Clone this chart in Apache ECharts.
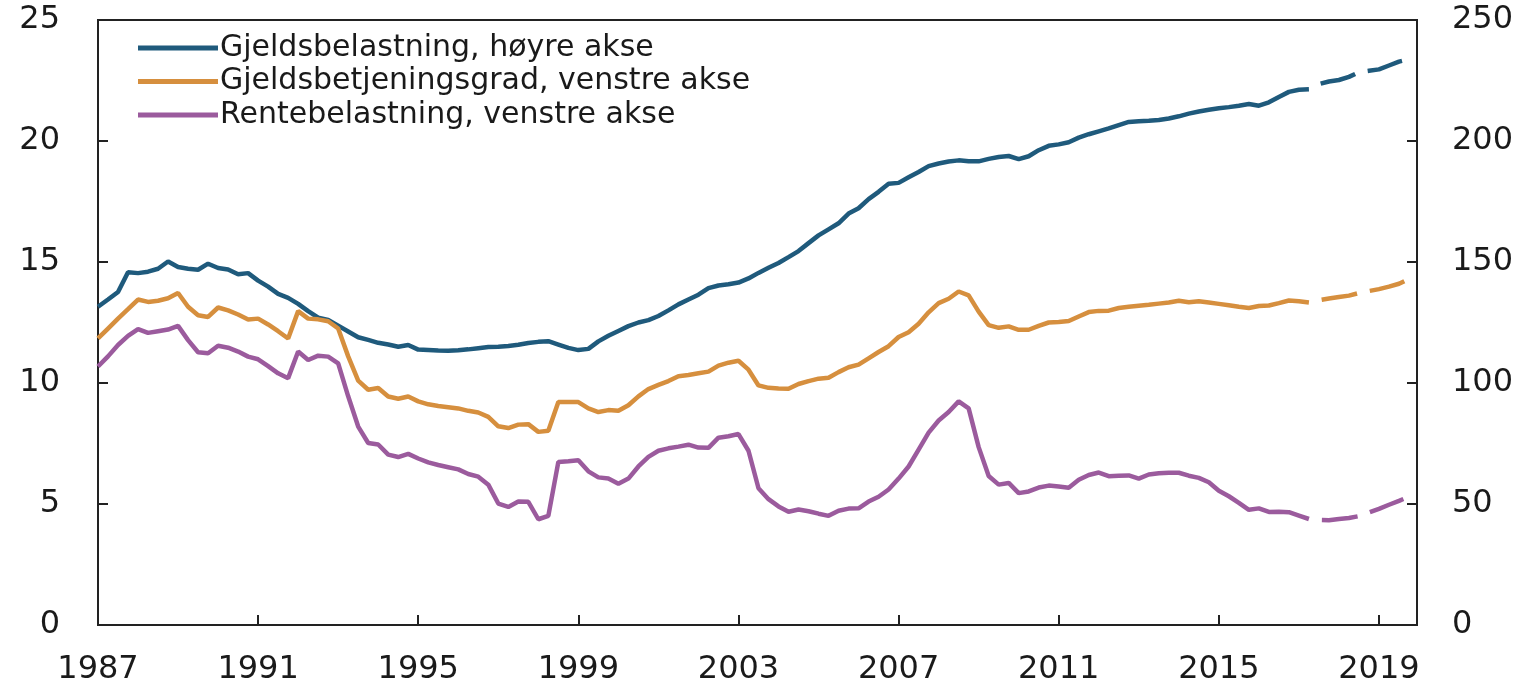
<!DOCTYPE html>
<html>
<head>
<meta charset="utf-8">
<script src="https://cdn.jsdelivr.net/npm/echarts@6/dist/echarts.min.js"></script>
<style>
  html, body { margin: 0; padding: 0; background: #fff; }
  #chart { width: 1534px; height: 686px; }
</style>
</head>
<body>
<div id="chart"></div>
<script>
// quarterly data, 1987K1 -> 2019K4
const startYear = 1987;
const splitIndex = 121; // last observed quarter (2017K2), projection after

// Gjeldsbelastning, right axis
const gjeldsbelastning = [
  131.5, 134.5, 137.6, 145.8, 145.4, 146.0, 147.2, 150.2, 147.9, 147.2,
  146.8, 149.3, 147.5, 146.9, 144.9, 145.4, 142.3, 139.8, 136.8, 135.2,
  132.7, 129.7, 127.0, 126.1, 123.7, 121.3, 118.9, 117.8, 116.6, 115.9,
  115.0, 115.7, 113.8, 113.6, 113.4, 113.3, 113.5, 113.9, 114.4, 114.9,
  115.0, 115.3, 115.8, 116.5, 117.0, 117.3, 115.9, 114.5, 113.6, 114.1,
  117.2, 119.5, 121.5, 123.5, 125.0, 126.0, 127.7, 130.0, 132.5, 134.5,
  136.5, 139.2, 140.3, 140.8, 141.5, 143.2, 145.5, 147.6, 149.6, 152.0,
  154.5, 157.8, 161.0, 163.5, 166.0, 170.0, 172.2, 176.0, 179.0, 182.3,
  182.7, 185.0, 187.2, 189.6, 190.7, 191.5, 192.0, 191.6, 191.6, 192.6,
  193.4, 193.8, 192.5, 193.7, 196.2, 198.0, 198.6, 199.5, 201.4, 202.8,
  204.0, 205.2, 206.6, 207.9, 208.2, 208.4, 208.7, 209.3, 210.2, 211.3,
  212.2, 212.9, 213.5, 214.0, 214.6, 215.3, 214.6, 216.0, 218.2, 220.3,
  221.2, 221.4, 223.5, 224.6, 225.2, 226.5, 228.4, 229.0, 229.6, 231.2,
  232.8, 233.8
];

// Gjeldsbetjeningsgrad, left axis
const gjeldsbetjeningsgrad = [
  11.84, 12.25, 12.66, 13.05, 13.45, 13.35, 13.40, 13.50, 13.72, 13.15,
  12.80, 12.73, 13.12, 13.00, 12.83, 12.62, 12.66, 12.42, 12.14, 11.84,
  12.97, 12.66, 12.63, 12.55, 12.25, 11.10, 10.10, 9.72, 9.79, 9.44,
  9.35, 9.44, 9.24, 9.12, 9.05, 9.00, 8.95, 8.85, 8.78, 8.60,
  8.21, 8.14, 8.28, 8.30, 7.98, 8.03, 9.21, 9.21, 9.21, 8.95,
  8.80, 8.88, 8.85, 9.08, 9.45, 9.75, 9.92, 10.08, 10.28, 10.33,
  10.40, 10.47, 10.72, 10.84, 10.92, 10.55, 9.90, 9.80, 9.77, 9.76,
  9.96, 10.08, 10.18, 10.22, 10.45, 10.65, 10.76, 11.02, 11.28, 11.52,
  11.90, 12.10, 12.45, 12.92, 13.30, 13.48, 13.78, 13.62, 12.95, 12.39,
  12.28, 12.34, 12.20, 12.20, 12.36, 12.50, 12.52, 12.56, 12.75, 12.93,
  12.98, 12.99, 13.10, 13.15, 13.19, 13.23, 13.28, 13.33, 13.40, 13.34,
  13.38, 13.33, 13.27, 13.21, 13.15, 13.10, 13.18, 13.20, 13.30, 13.41,
  13.38, 13.33, 13.42, 13.49, 13.55, 13.61, 13.72, 13.80, 13.88, 13.98,
  14.10, 14.30
];

// Rentebelastning, left axis
const rentebelastning = [
  10.68, 11.10, 11.57, 11.95, 12.23, 12.07, 12.14, 12.21, 12.36, 11.77,
  11.27, 11.23, 11.54, 11.46, 11.30, 11.09, 10.98, 10.70, 10.40, 10.20,
  11.30, 10.95, 11.13, 11.09, 10.81, 9.45, 8.20, 7.52, 7.46, 7.04,
  6.94, 7.07, 6.88, 6.72, 6.61, 6.52, 6.43, 6.24, 6.13, 5.80,
  5.02, 4.88, 5.10, 5.09, 4.37, 4.51, 6.74, 6.77, 6.81, 6.35,
  6.10, 6.05, 5.84, 6.05, 6.55, 6.95, 7.20, 7.30, 7.37, 7.45,
  7.33, 7.32, 7.74, 7.80, 7.89, 7.20, 5.65, 5.20, 4.90, 4.68,
  4.77, 4.70, 4.60, 4.51, 4.72, 4.81, 4.82, 5.10, 5.30, 5.60,
  6.05, 6.55, 7.25, 7.95, 8.45, 8.80, 9.24, 8.95, 7.35, 6.16,
  5.80, 5.87, 5.45, 5.52, 5.68, 5.76, 5.72, 5.67, 6.00, 6.20,
  6.30, 6.15, 6.17, 6.18, 6.05, 6.22, 6.27, 6.29, 6.29, 6.17,
  6.08, 5.90, 5.55, 5.32, 5.05, 4.76, 4.82, 4.67, 4.68, 4.66,
  4.52, 4.38, 4.34, 4.33, 4.38, 4.42, 4.50, 4.65, 4.80, 4.97,
  5.13, 5.30
];

const names = [
  'Gjeldsbelastning, høyre akse',
  'Gjeldsbetjeningsgrad, venstre akse',
  'Rentebelastning, venstre akse'
];
const colors = ['#1f5a7c', '#d68f3e', '#9b5b9d'];

const toPairs = (arr) => arr.map((v, i) => [startYear + i / 4, v]);
const observed = (arr) => toPairs(arr).slice(0, splitIndex + 1);
const projected = (arr) => toPairs(arr).slice(splitIndex);

const font = '"DejaVu Sans", Verdana, sans-serif';
const tickStyle = { show: true, inside: true, length: 10, lineStyle: { color: '#222', width: 2 } };

const lineSeries = (name, data, color, yAxisIndex, dashed) => ({
  name: name,
  type: 'line',
  yAxisIndex: yAxisIndex,
  data: data,
  symbol: 'none',
  silent: true,
  lineStyle: dashed
    ? { color: color, width: 4.5, type: [36, 13], dashOffset: 36 }
    : { color: color, width: 4.5 },
  itemStyle: { color: color },
  z: 3
});

const chart = echarts.init(document.getElementById('chart'));
chart.setOption({
  animation: false,
  backgroundColor: '#fff',
  grid: {
    left: 98, right: 117, top: 20, bottom: 58,
    show: true, borderColor: '#222', borderWidth: 2
  },
  legend: {
    data: names,
    orient: 'vertical',
    left: 133,
    top: 28,
    itemWidth: 80,
    itemHeight: 5,
    itemGap: 3.5,
    icon: 'rect',
    textStyle: { fontFamily: font, fontSize: 30, lineHeight: 30, color: '#1a1a1a', padding: [0, 0, 0, -3] }
  },
  xAxis: {
    type: 'value',
    min: 1987,
    max: 2019.95,
    interval: 4,
    splitLine: { show: false },
    axisLine: { show: false },
    axisTick: tickStyle,
    axisLabel: {
      showMaxLabel: false,
      margin: 29,
      fontFamily: font, fontSize: 32, color: '#1a1a1a',
      formatter: (v) => String(Math.round(v))
    }
  },
  yAxis: [
    {
      type: 'value', position: 'left', min: 0, max: 25, interval: 5,
      splitLine: { show: false },
      axisLine: { show: false },
      axisTick: tickStyle,
      axisLabel: { margin: 38, fontFamily: font, fontSize: 32, color: '#1a1a1a' }
    },
    {
      type: 'value', position: 'right', min: 0, max: 250, interval: 50,
      splitLine: { show: false },
      axisLine: { show: false },
      axisTick: tickStyle,
      axisLabel: { margin: 35, fontFamily: font, fontSize: 32, color: '#1a1a1a' }
    }
  ],
  series: [
    lineSeries(names[0], observed(gjeldsbelastning), colors[0], 1, false),
    lineSeries(names[1], observed(gjeldsbetjeningsgrad), colors[1], 0, false),
    lineSeries(names[2], observed(rentebelastning), colors[2], 0, false),
    lineSeries('Gjeldsbelastning, anslag', projected(gjeldsbelastning), colors[0], 1, true),
    lineSeries('Gjeldsbetjeningsgrad, anslag', projected(gjeldsbetjeningsgrad), colors[1], 0, true),
    lineSeries('Rentebelastning, anslag', projected(rentebelastning), colors[2], 0, true)
  ]
});
</script>
</body>
</html>
